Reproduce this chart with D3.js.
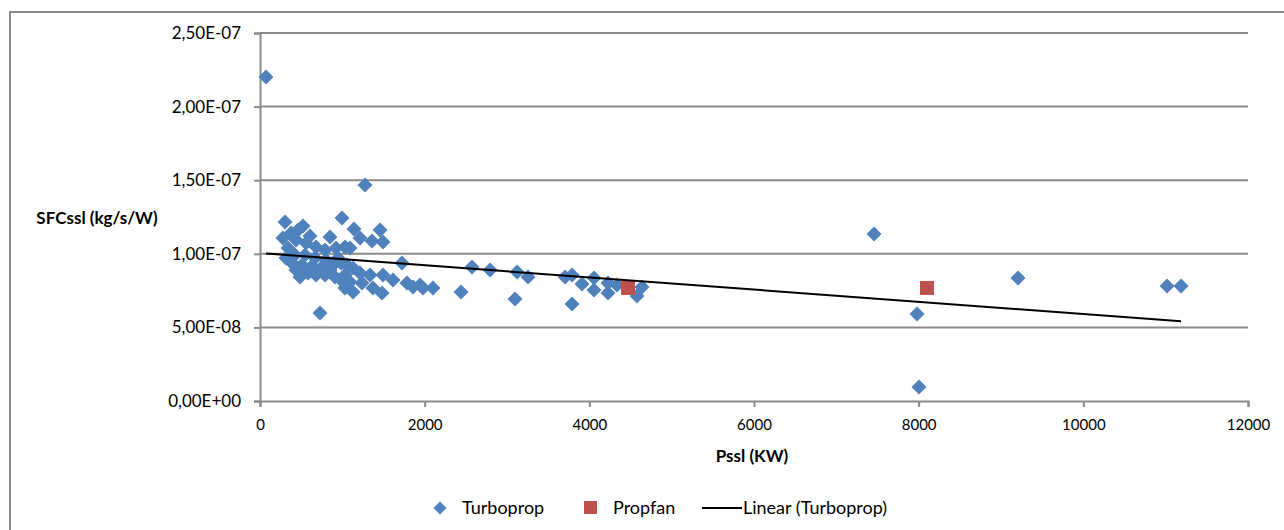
<!DOCTYPE html>
<html>
<head>
<meta charset="utf-8">
<script src="https://cdn.jsdelivr.net/npm/d3@7/dist/d3.min.js"></script>
<style>
  html, body { margin: 0; padding: 0; background: #fff; }
  svg { display: block; }
  text { font-family: Lato, "Open Sans", sans-serif; fill: #000; }
</style>
</head>
<body>
<svg id="chart" width="1284" height="530"></svg>
<script>
// Turboprop engines: sea-level power (kW) and sea-level SFC (kg/s/W)
const turbopropPower = [
  73, 1275, 996, 304, 522, 1142, 1458, 850, 462, 377, 279, 1215, 1360, 1494, 559, 680, 790, 923, 1032, 1093, 340, 437, 607,
  316, 425, 547, 668, 802, 947, 389, 510, 632, 753, 875, 984, 1725, 1057, 1130,
  486, 583, 680, 790, 911, 984, 1032, 1215, 1336, 1494, 1615, 1785, 1943, 1093, 1130, 1482, 1372, 1032, 729, 1858, 1980, 2101, 1239, 850, 437,
  2575, 2794, 3122, 3255, 2441, 3097, 3705, 3790, 3911, 4057, 4057, 4227, 4227, 4336, 4640, 4579, 3790,
  7458, 7980, 8004, 9207, 11017, 11187
];
const turbopropSfc = [
  2.201e-7, 1.467e-7, 1.243e-7, 1.216e-7, 1.189e-7, 1.168e-7, 1.162e-7, 1.114e-7, 1.162e-7, 1.141e-7, 1.107e-7, 1.107e-7, 1.087e-7, 1.080e-7, 1.073e-7, 1.046e-7, 1.026e-7, 1.039e-7, 1.046e-7, 1.039e-7, 1.039e-7, 1.094e-7, 1.121e-7,
  9.71e-8, 9.92e-8, 9.92e-8, 9.71e-8, 9.58e-8, 9.71e-8, 9.38e-8, 9.24e-8, 9.17e-8, 9.10e-8, 9.17e-8, 9.38e-8, 9.38e-8, 9.24e-8, 9.04e-8,
  8.42e-8, 8.70e-8, 8.56e-8, 8.56e-8, 8.42e-8, 8.22e-8, 7.68e-8, 8.70e-8, 8.56e-8, 8.56e-8, 8.22e-8, 8.02e-8, 7.88e-8, 8.08e-8, 7.40e-8, 7.34e-8, 7.68e-8, 8.56e-8, 5.98e-8, 7.74e-8, 7.68e-8, 7.68e-8, 8.02e-8, 8.90e-8, 8.90e-8,
  9.10e-8, 8.90e-8, 8.76e-8, 8.42e-8, 7.40e-8, 6.93e-8, 8.42e-8, 8.56e-8, 7.95e-8, 8.36e-8, 7.54e-8, 8.02e-8, 7.34e-8, 7.88e-8, 7.74e-8, 7.13e-8, 6.59e-8,
  1.135e-7, 5.91e-8, 9.5e-9, 8.36e-8, 7.81e-8, 7.81e-8
];

// Propfan engines
const propfanPower = [4470, 8101];
const propfanSfc = [7.68e-8, 7.68e-8];

// Axis ticks
const xTicks = [0, 2000, 4000, 6000, 8000, 10000, 12000];
const yTicks = [0, 5e-8, 1e-7, 1.5e-7, 2e-7, 2.5e-7];
const yTickLabels = ["0,00E+00", "5,00E-08", "1,00E-07", "1,50E-07", "2,00E-07", "2,50E-07"];

const turboprop = turbopropPower.map((p, i) => ({ p, s: turbopropSfc[i] }));
const propfan = propfanPower.map((p, i) => ({ p, s: propfanSfc[i] }));

const svg = d3.select("#chart");
const plot = { left: 260, right: 1248, top: 33, bottom: 401 };

const x = d3.scaleLinear().domain([0, 12000]).range([plot.left, plot.right]);
const y = d3.scaleLinear().domain([0, 2.5e-7]).range([plot.bottom, plot.top]);

const gridColor = "#8a8a8a";

// chart frame
svg.append("rect")
  .attr("x", 10).attr("y", 12)
  .attr("width", 1290).attr("height", 530)
  .attr("fill", "none").attr("stroke", gridColor).attr("stroke-width", 2);

// horizontal gridlines
svg.append("g").selectAll("line").data(yTicks.slice(1)).join("line")
  .attr("x1", plot.left).attr("x2", plot.right)
  .attr("y1", d => y(d)).attr("y2", d => y(d))
  .attr("stroke", gridColor).attr("stroke-width", 2);

// y axis
const yAxis = d3.axisLeft(y).tickValues(yTicks)
  .tickFormat((d, i) => yTickLabels[i]).tickSize(6).tickPadding(13);
const gy = svg.append("g").attr("transform", `translate(${plot.left},0)`).call(yAxis);
gy.select(".domain").attr("stroke", gridColor).attr("stroke-width", 2);
gy.selectAll(".tick line").attr("stroke", gridColor).attr("stroke-width", 2);
gy.selectAll(".tick text").style("font-family", "Lato, sans-serif").style("font-size", "17px").attr("fill", "#000");

// x axis
const xAxis = d3.axisBottom(x).tickValues(xTicks).tickFormat(d3.format("d")).tickSize(6).tickPadding(12);
const gx = svg.append("g").attr("transform", `translate(0,${plot.bottom})`).call(xAxis);
gx.select(".domain").attr("stroke", gridColor).attr("stroke-width", 2);
gx.selectAll(".tick line").attr("stroke", gridColor).attr("stroke-width", 2);
gx.selectAll(".tick text").style("font-family", "Lato, sans-serif").style("font-size", "15px").attr("fill", "#000");

// axis titles
svg.append("text").attr("x", 97).attr("y", 224).attr("text-anchor", "middle")
  .style("font-weight", "bold").style("font-size", "17px").text("SFCssl (kg/s/W)");
svg.append("text").attr("x", 752).attr("y", 462).attr("text-anchor", "middle")
  .style("font-weight", "bold").style("font-size", "17px").text("Pssl (KW)");

const blue = "#4f81bd";
const red = "#c0504d";
const diamond = "M0,-7.5L7.5,0L0,7.5L-7.5,0Z";

// turboprop markers
svg.append("g").selectAll("path").data(turboprop).join("path")
  .attr("d", diamond)
  .attr("transform", d => `translate(${x(d.p)},${y(d.s)})`)
  .attr("fill", blue);

// propfan markers
svg.append("g").selectAll("rect").data(propfan).join("rect")
  .attr("x", d => x(d.p) - 7).attr("y", d => y(d.s) - 7)
  .attr("width", 14).attr("height", 14)
  .attr("fill", red);

// least-squares linear trend of the turboprop series
const mx = d3.mean(turboprop, d => d.p);
const my = d3.mean(turboprop, d => d.s);
const slope = d3.sum(turboprop, d => (d.p - mx) * (d.s - my)) / d3.sum(turboprop, d => (d.p - mx) ** 2);
const intercept = my - slope * mx;
const [pMin, pMax] = d3.extent(turboprop, d => d.p);
svg.append("line")
  .attr("x1", x(pMin)).attr("y1", y(intercept + slope * pMin))
  .attr("x2", x(pMax)).attr("y2", y(intercept + slope * pMax))
  .attr("stroke", "#000").attr("stroke-width", 2);

// legend
const lg = svg.append("g");
lg.append("path").attr("d", "M0,-6.5L6.5,0L0,6.5L-6.5,0Z").attr("transform", "translate(440,508)").attr("fill", blue);
lg.append("text").attr("x", 462).attr("y", 514).style("font-size", "18px").text("Turboprop");
lg.append("rect").attr("x", 584).attr("y", 501).attr("width", 13).attr("height", 13).attr("fill", red);
lg.append("text").attr("x", 613).attr("y", 514).style("font-size", "18px").text("Propfan");
lg.append("line").attr("x1", 702).attr("x2", 742).attr("y1", 508).attr("y2", 508).attr("stroke", "#000").attr("stroke-width", 2);
lg.append("text").attr("x", 743).attr("y", 514).style("font-size", "18px").text("Linear (Turboprop)");
</script>
</body>
</html>
